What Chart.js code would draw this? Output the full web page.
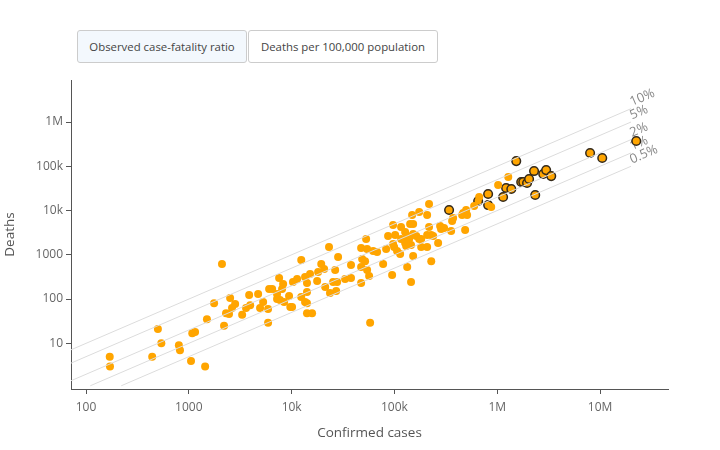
<!DOCTYPE html>
<html>
<head>
<meta charset="utf-8">
<title>Case-fatality ratio</title>
<script src="https://cdn.jsdelivr.net/npm/chart.js@4.4.1/dist/chart.umd.min.js"></script>
<style>
  body { margin: 0; background: #fff; }
  #wrap { position: relative; width: 720px; height: 450px; font-family: 'Open Sans', sans-serif; }
  #chart { position: absolute; left: 0; top: 0; }
  .btn {
    position: absolute; top: 30px; height: 33px; box-sizing: border-box;
    border: 1px solid #ccc; border-radius: 3px; background: #fff;
    color: #444; font-family: 'Open Sans', sans-serif; font-size: 11.4px; padding: 0;
  }
  .btn.active { background: #f3f8fd; }
</style>
</head>
<body>
<div id="wrap">
  <canvas id="chart" width="720" height="450"></canvas>
  <button class="btn active" style="left:77px; width:170px">Observed case-fatality ratio</button>
  <button class="btn" style="left:248px; width:190px">Deaths per 100,000 population</button>
</div>
<script>
// countries without highlight
const casesPlain = [
  170, 171, 500, 540, 440, 800, 820, 1050, 1440, 1080, 1150, 1500, 1760, 2200, 2300, 2460,
  2630, 2820, 2520, 3300, 3600, 3950, 4930, 5280, 5900, 5900, 7700, 8450, 9700, 10100, 14100,
  13500, 2100, 12400, 7550, 11300, 10300, 13500, 15100, 14100, 8260, 8070, 6040, 6460, 7210,
  3860, 4720, 7210, 9440, 12400, 14100,
  97000, 101600, 86700, 53000, 47400, 54200, 62000, 67800, 83000, 99300, 106000, 113600,
  23100, 28300, 48500, 51800, 77600, 37800, 47400, 54200, 19400, 20700, 26500, 18100, 17700,
  33100, 37800, 56700, 47400, 94900, 27700, 25300, 21200, 23600, 27100, 14100, 15800, 58000,
  217000, 148600, 174000, 208000, 466000, 498000, 455000, 509000, 372000, 364000, 116000,
  142000, 152000, 217000, 278000, 284000, 304000, 356000, 487000, 127000, 133000, 152000,
  163000, 208000, 228000, 238000, 116000, 139000, 174000, 182000, 97000, 127000, 145000,
  266000, 130000, 182000, 208000, 152000, 228000, 133000, 145000,
  1280000, 1020000, 667000, 596000, 873000
];
const deathsPlain = [
  5, 3, 21, 10, 5, 9, 7, 4, 3, 17, 18, 35, 81, 25, 48, 46,
  63, 77, 106, 44, 63, 73, 63, 86, 60, 29, 95, 86, 66, 66, 48,
  86, 620, 760, 300, 284, 243, 315, 368, 230, 219, 169, 169, 169, 130,
  124, 130, 100, 117, 111, 81,
  4700, 2800, 2660, 2280, 1430, 1350, 1220, 1160, 1350, 1500, 1220, 1040,
  1500, 890, 800, 720, 620, 590, 530, 454, 620, 478, 454, 409, 256,
  284, 299, 332, 231, 350, 243, 243, 187, 137, 152, 144, 48, 29,
  14000, 7900, 9300, 7900, 8800, 10300, 7900, 7900, 6800, 5800, 4250,
  4960, 4960, 4250, 4470, 3830, 4030, 3450, 3630, 3270, 2660, 2950,
  2660, 2800, 2800, 2660, 2280, 2280, 2280, 2280, 1750, 1850, 1660,
  1850, 1580, 1500, 1500, 940, 720, 530, 243,
  57000, 37700, 20200, 12600, 12000
];

// highlighted countries (outlined)
const casesHighlighted = [
  340000, 1530000, 1220000, 1370000, 1710000, 1790000, 1950000, 2040000, 2280000, 2800000,
  2990000, 3350000, 2340000, 1140000, 815000, 652000, 815000, 8000000, 10500000, 22500000
];
const deathsHighlighted = [
  10300, 131000, 32300, 30600, 44100, 44100, 41900, 51600, 78000, 67000,
  82000, 60000, 22400, 20200, 23600, 16400, 13300, 200000, 154000, 372000
];

// reference lines: deaths = ratio * cases
const cfrLevels = [0.1, 0.05, 0.02, 0.01, 0.005];
const cfrLabels = ['10%', '5%', '2%', '1%', '0.5%'];
const cfrStartDeaths = 1.1;
const cfrEndCases = 2e7;

const xTickValues = [100, 1000, 1e4, 1e5, 1e6, 1e7];
const xTickLabels = ['100', '1000', '10k', '100k', '1M', '10M'];
const yTickValues = [10, 100, 1000, 1e4, 1e5, 1e6];
const yTickLabels = ['10', '100', '1000', '10k', '100k', '1M'];

const toPoints = (xs, ys) => xs.map((x, i) => ({ x: x, y: ys[i] }));

const lineSets = cfrLevels.map((r, i) => ({
  label: cfrLabels[i],
  data: [{ x: cfrStartDeaths / r, y: cfrStartDeaths }, { x: cfrEndCases, y: cfrEndCases * r }],
  showLine: true,
  borderColor: '#dcdcdc',
  borderWidth: 1,
  pointRadius: 0
}));

const cfrLabelPlugin = {
  id: 'cfrLabels',
  beforeDatasetsDraw(chart) {
    const { ctx, scales: { x, y } } = chart;
    ctx.save();
    ctx.fillStyle = '#888';
    ctx.font = "13px 'Open Sans', sans-serif";
    ctx.textAlign = 'left';
    ctx.textBaseline = 'alphabetic';
    cfrLevels.forEach((r, i) => {
      const x1 = x.getPixelForValue(cfrEndCases / 10), y1 = y.getPixelForValue(cfrEndCases / 10 * r);
      const x2 = x.getPixelForValue(cfrEndCases), y2 = y.getPixelForValue(cfrEndCases * r);
      const angle = Math.atan2(y2 - y1, x2 - x1);
      ctx.save();
      ctx.translate(x2, y2);
      ctx.rotate(angle);
      ctx.fillText(cfrLabels[i], 2, -2);
      ctx.restore();
    });
    ctx.restore();
  }
};

const tickFont = { family: "'Open Sans', sans-serif", size: 12 };
const titleFont = { family: "'Open Sans', sans-serif", size: 13.5 };

new Chart(document.getElementById('chart').getContext('2d'), {
  type: 'scatter',
  data: {
    datasets: [
      ...lineSets,
      {
        label: 'countries',
        data: toPoints(casesPlain, deathsPlain),
        backgroundColor: '#ffa500',
        borderColor: '#ffa500',
        borderWidth: 0,
        pointRadius: 4
      },
      {
        label: 'highlighted',
        data: toPoints(casesHighlighted, deathsHighlighted),
        backgroundColor: '#ffa500',
        borderColor: '#33291a',
        borderWidth: 1.5,
        pointRadius: 4.3
      }
    ]
  },
  options: {
    responsive: false,
    animation: false,
    layout: { padding: { top: 80, right: 52, left: 0, bottom: 0 } },
    plugins: { legend: { display: false }, tooltip: { enabled: false } },
    scales: {
      x: {
        type: 'logarithmic',
        min: 71.4,
        max: 4.58e7,
        afterBuildTicks: s => { s.ticks = xTickValues.map(v => ({ value: v })); },
        afterFit: s => { s.height = 61; },
        ticks: {
          autoSkip: false, maxRotation: 0, padding: 6, color: '#666', font: tickFont,
          callback: v => xTickLabels[xTickValues.indexOf(v)]
        },
        grid: { drawOnChartArea: false, drawTicks: true, tickLength: 5, tickColor: '#555' },
        border: { color: '#555' },
        title: { display: true, text: 'Confirmed cases', color: '#555', font: titleFont, padding: { top: 0, bottom: 9 } }
      },
      y: {
        type: 'logarithmic',
        min: 0.93,
        max: 8.9e6,
        afterBuildTicks: s => { s.ticks = yTickValues.map(v => ({ value: v })); },
        afterFit: s => { s.width = 71; },
        ticks: {
          autoSkip: false, padding: 3, color: '#666', font: tickFont,
          callback: v => yTickLabels[yTickValues.indexOf(v)]
        },
        grid: { drawOnChartArea: false, drawTicks: true, tickLength: 5, tickColor: '#555' },
        border: { color: '#555' },
        title: { display: true, text: 'Deaths', color: '#555', font: titleFont, padding: { top: 2, bottom: 0 } }
      }
    }
  },
  plugins: [cfrLabelPlugin]
});
</script>
</body>
</html>
